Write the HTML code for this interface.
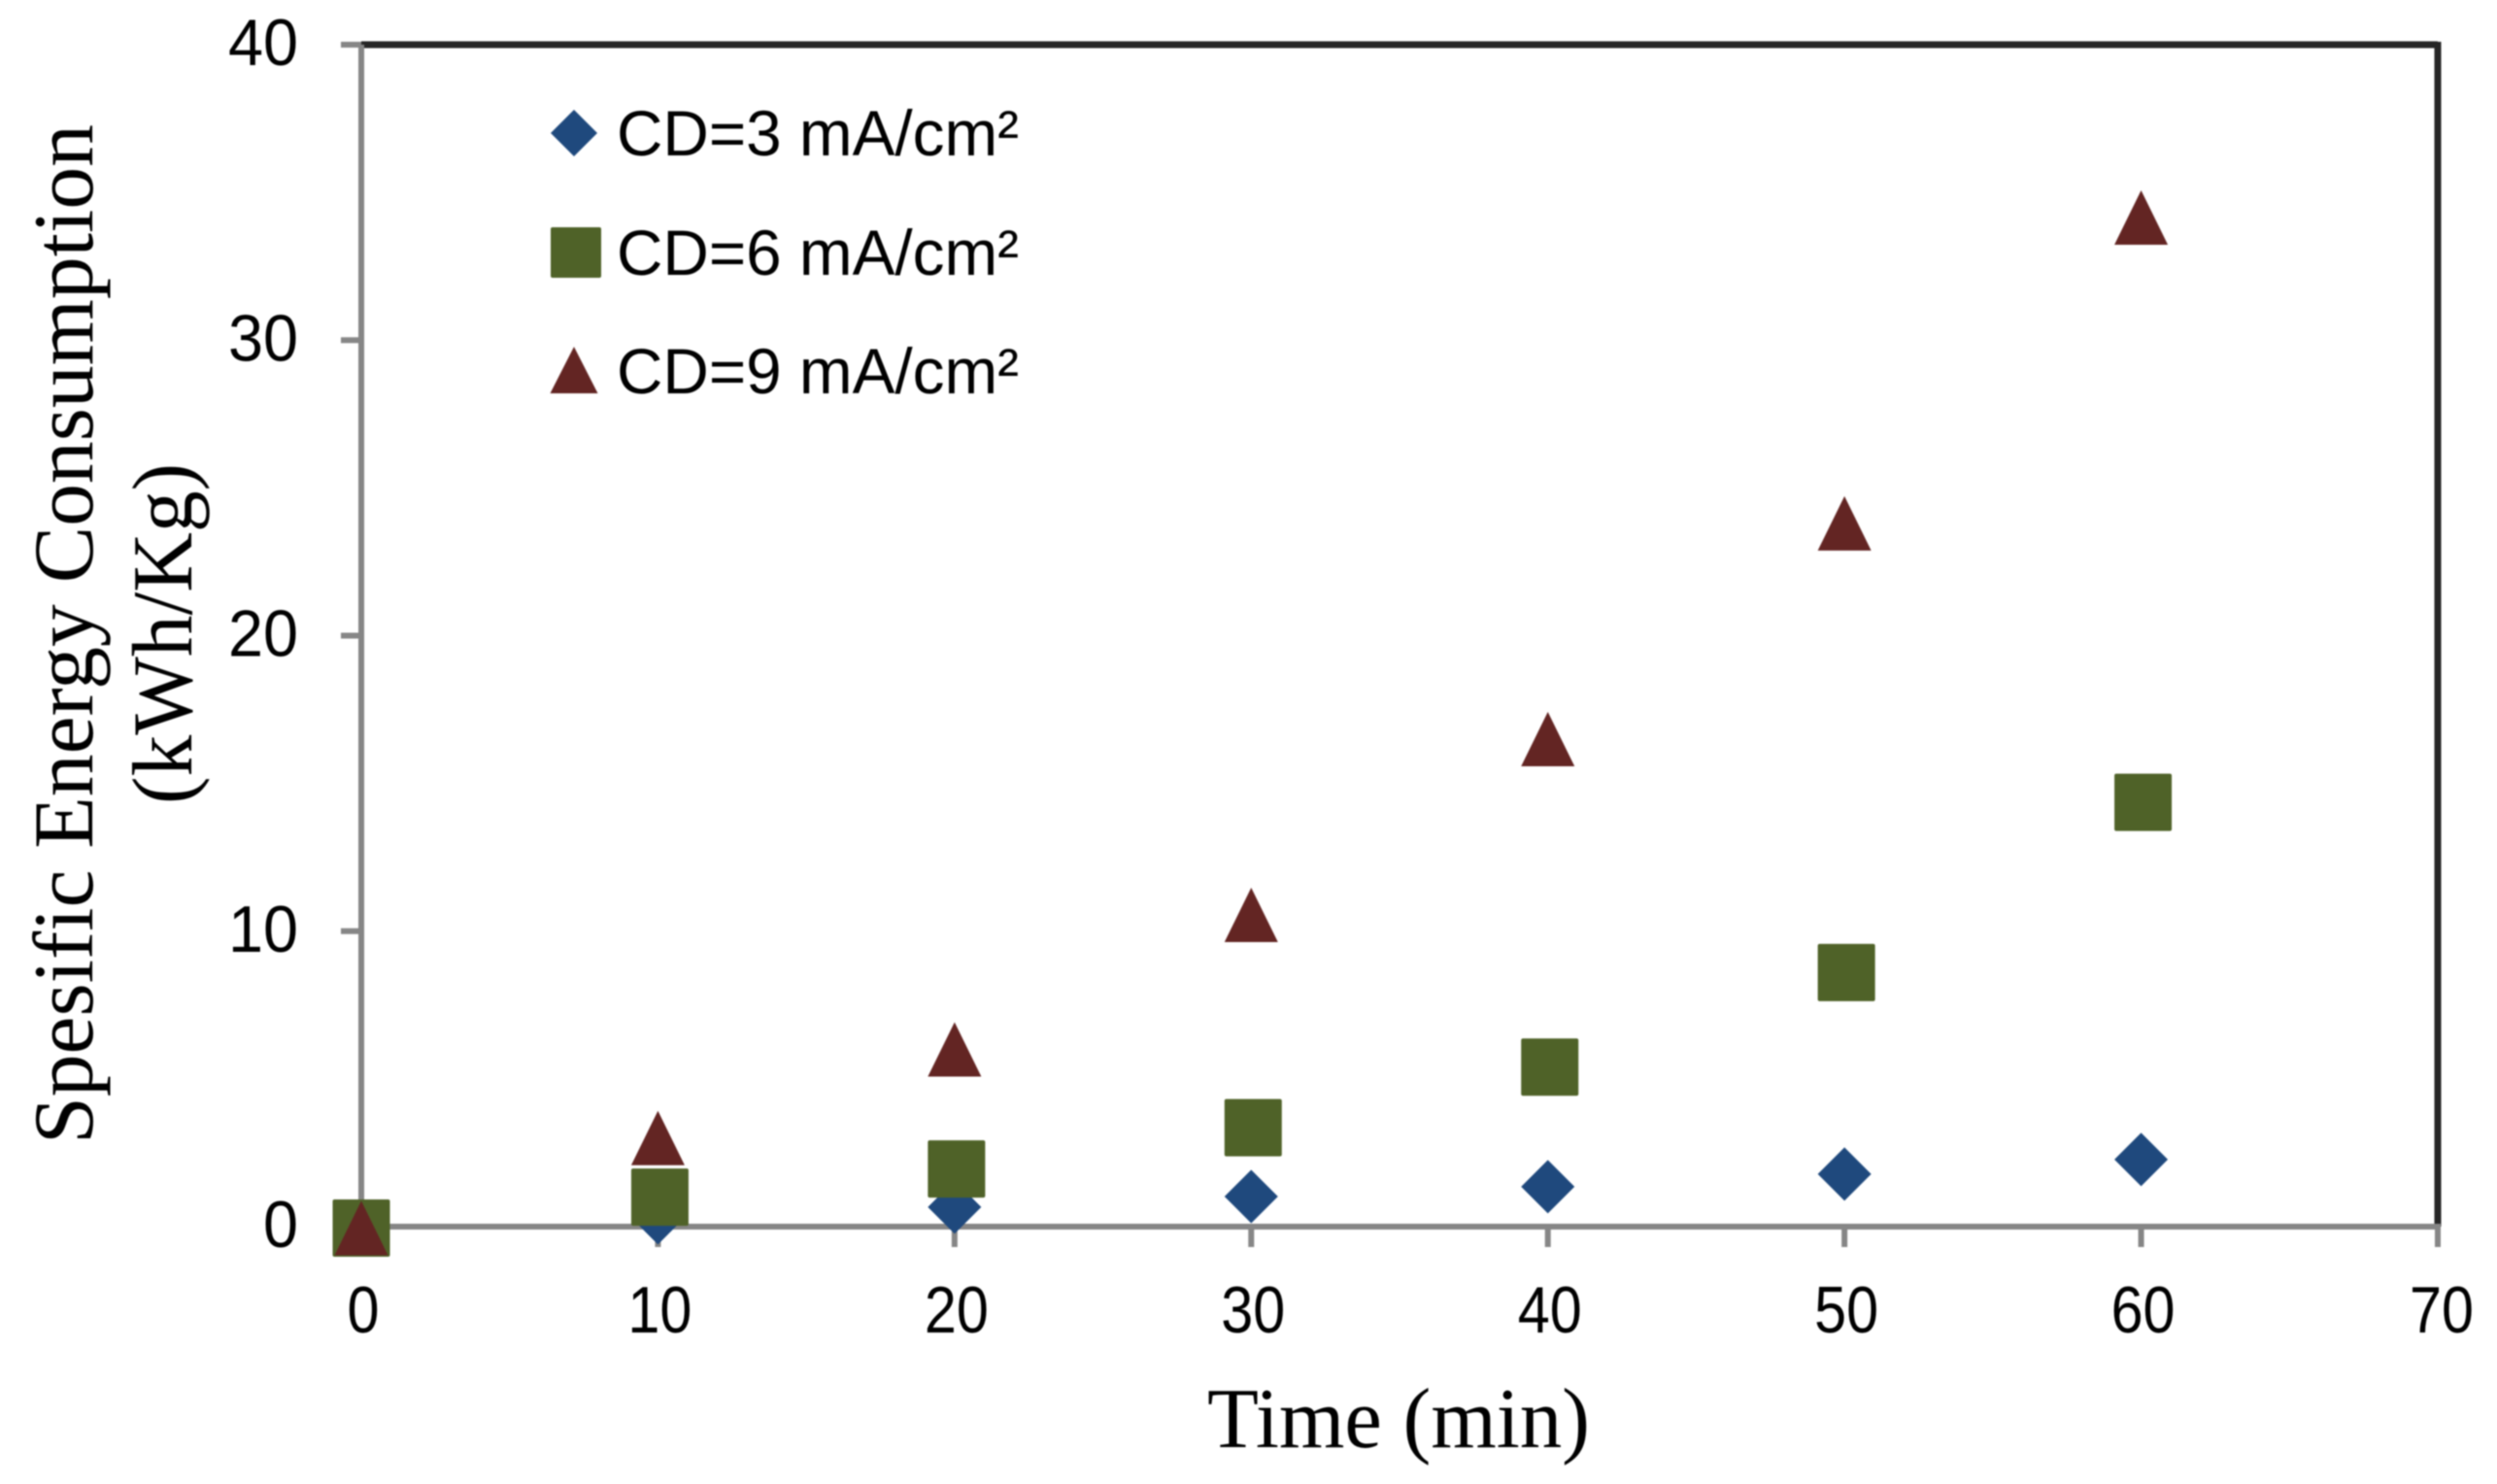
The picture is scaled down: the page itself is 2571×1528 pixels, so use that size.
<!DOCTYPE html>
<html>
<head>
<meta charset="utf-8">
<title>Specific energy consumption chart</title>
<style>
html,body{margin:0;padding:0;background:#fff;}
svg{display:block;filter:blur(.7px);}
.num{font-family:"Liberation Sans",sans-serif;font-size:68px;fill:#000;}
.leg{font-family:"Liberation Sans",sans-serif;font-size:66px;fill:#000;}
.ttl{font-family:"Liberation Serif",serif;font-size:88px;fill:#000;}
</style>
</head>
<body>
<svg id="chart" width="2571" height="1528" viewBox="0 0 2571 1528" xmlns="http://www.w3.org/2000/svg"></svg>
<script>
const xTicks = [0, 10, 20, 30, 40, 50, 60, 70];
const yTicks = [0, 10, 20, 30, 40];
const times = [0, 10, 20, 30, 40, 50, 60];
const cd3Values = [0, 0.3, 0.66, 1.02, 1.35, 1.78, 2.27];
const cd6Values = [-0.05, 1.0, 1.95, 3.35, 5.4, 8.6, 14.36];
const cd9Values = [-0.05, 3.0, 6.0, 10.55, 16.5, 23.8, 34.15];
const legendLabels = ['CD=3 mA/cm²', 'CD=6 mA/cm²', 'CD=9 mA/cm²'];

const NS = 'http://www.w3.org/2000/svg';
const svg = document.getElementById('chart');
const X0 = 372, X1 = 2510, Y0 = 1263, Y1 = 46;
function sx(v) { return X0 + (v / 70) * (X1 - X0); }
function sy(v) { return Y0 - (v / 40) * (Y0 - Y1); }
function make(tag, attrs, txt) {
  const el = document.createElementNS(NS, tag);
  for (const k in attrs) el.setAttribute(k, attrs[k]);
  if (txt !== undefined) el.textContent = txt;
  svg.appendChild(el);
  return el;
}
const GREY = '#868686', DARK = '#262626';
const BLUE = '#1f497d', GREEN = '#4f6228', RED = '#632523';

let el;
el = make('line', {x1: X0, y1: Y1, x2: X1, y2: Y1, stroke: DARK, 'stroke-width': 7});


el = make('line', {x1: X1, y1: Y1 - 3, x2: X1, y2: Y0, stroke: DARK, 'stroke-width': 7});


el = make('line', {x1: X0, y1: Y1, x2: X0, y2: Y0, stroke: GREY, 'stroke-width': 6});


el = make('line', {x1: X0, y1: Y0, x2: X1 + 3, y2: Y0, stroke: GREY, 'stroke-width': 6});



xTicks.forEach(function (t) {
  const tick = make('line', {x1: sx(t), y1: Y0, x2: sx(t), y2: Y0 + 21, stroke: GREY, 'stroke-width': 6});
  
  
  const s = String(t);
  const label = make('text', {class: 'num', x: sx(t) + (t === 70 ? 4 : 2), y: 1372, 'text-anchor': 'middle', textLength: s.length * 33, lengthAdjust: 'spacingAndGlyphs'}, s);
  
  
});
yTicks.forEach(function (t) {
  const tick = make('line', {x1: X0 - 21, y1: sy(t), x2: X0, y2: sy(t), stroke: GREY, 'stroke-width': 6});
  
  
  const s = String(t);
  const label = make('text', {class: 'num', x: 307, y: sy(t) + 21, 'text-anchor': 'end', textLength: s.length * 36, lengthAdjust: 'spacingAndGlyphs'}, s);
  
  
});

function diamond(cx, cy, w, h) {
  return make('polygon', {points: [cx, cy - h / 2, cx + w / 2, cy, cx, cy + h / 2, cx - w / 2, cy].join(','), fill: BLUE});
}
function square(cx, cy, s) {
  return make('rect', {x: cx - s / 2, y: cy - s / 2, width: s, height: s, rx: 2, fill: GREEN});
}
function triangle(cx, cy, w, h) {
  return make('polygon', {points: [cx, cy - h / 2, cx + w / 2, cy + h / 2, cx - w / 2, cy + h / 2].join(','), fill: RED});
}

times.forEach(function (t, i) {
  const m = diamond(sx(t), sy(cd3Values[i]), 55, 55);
  
  
});
times.forEach(function (t, i) {
  const m = square(sx(t) + (t > 0 ? 2 : 0), sy(cd6Values[i]), 59);
  
  
});
times.forEach(function (t, i) {
  const m = triangle(sx(t), sy(cd9Values[i]), 55, 56);
  
  
});

el = diamond(591, 137, 48, 48);


el = square(593, 260, 52);


el = triangle(591, 381, 49, 48);



const legendBaselines = [160, 283, 405];
legendLabels.forEach(function (s, i) {
  const t = make('text', {class: 'leg', x: 635, y: legendBaselines[i], textLength: 414, lengthAdjust: 'spacingAndGlyphs'}, s);
  
  
});

el = make('text', {class: 'ttl', x: 1243, y: 1490, textLength: 394, lengthAdjust: 'spacingAndGlyphs'}, 'Time (min)');


el = make('text', {class: 'ttl', transform: 'translate(95,1178) rotate(-90)', textLength: 1050, lengthAdjust: 'spacingAndGlyphs'}, 'Spesific Energy Consumption');


el = make('text', {class: 'ttl', transform: 'translate(197,828) rotate(-90)', textLength: 351, lengthAdjust: 'spacingAndGlyphs'}, '(kWh/Kg)');


</script>
</body>
</html>
